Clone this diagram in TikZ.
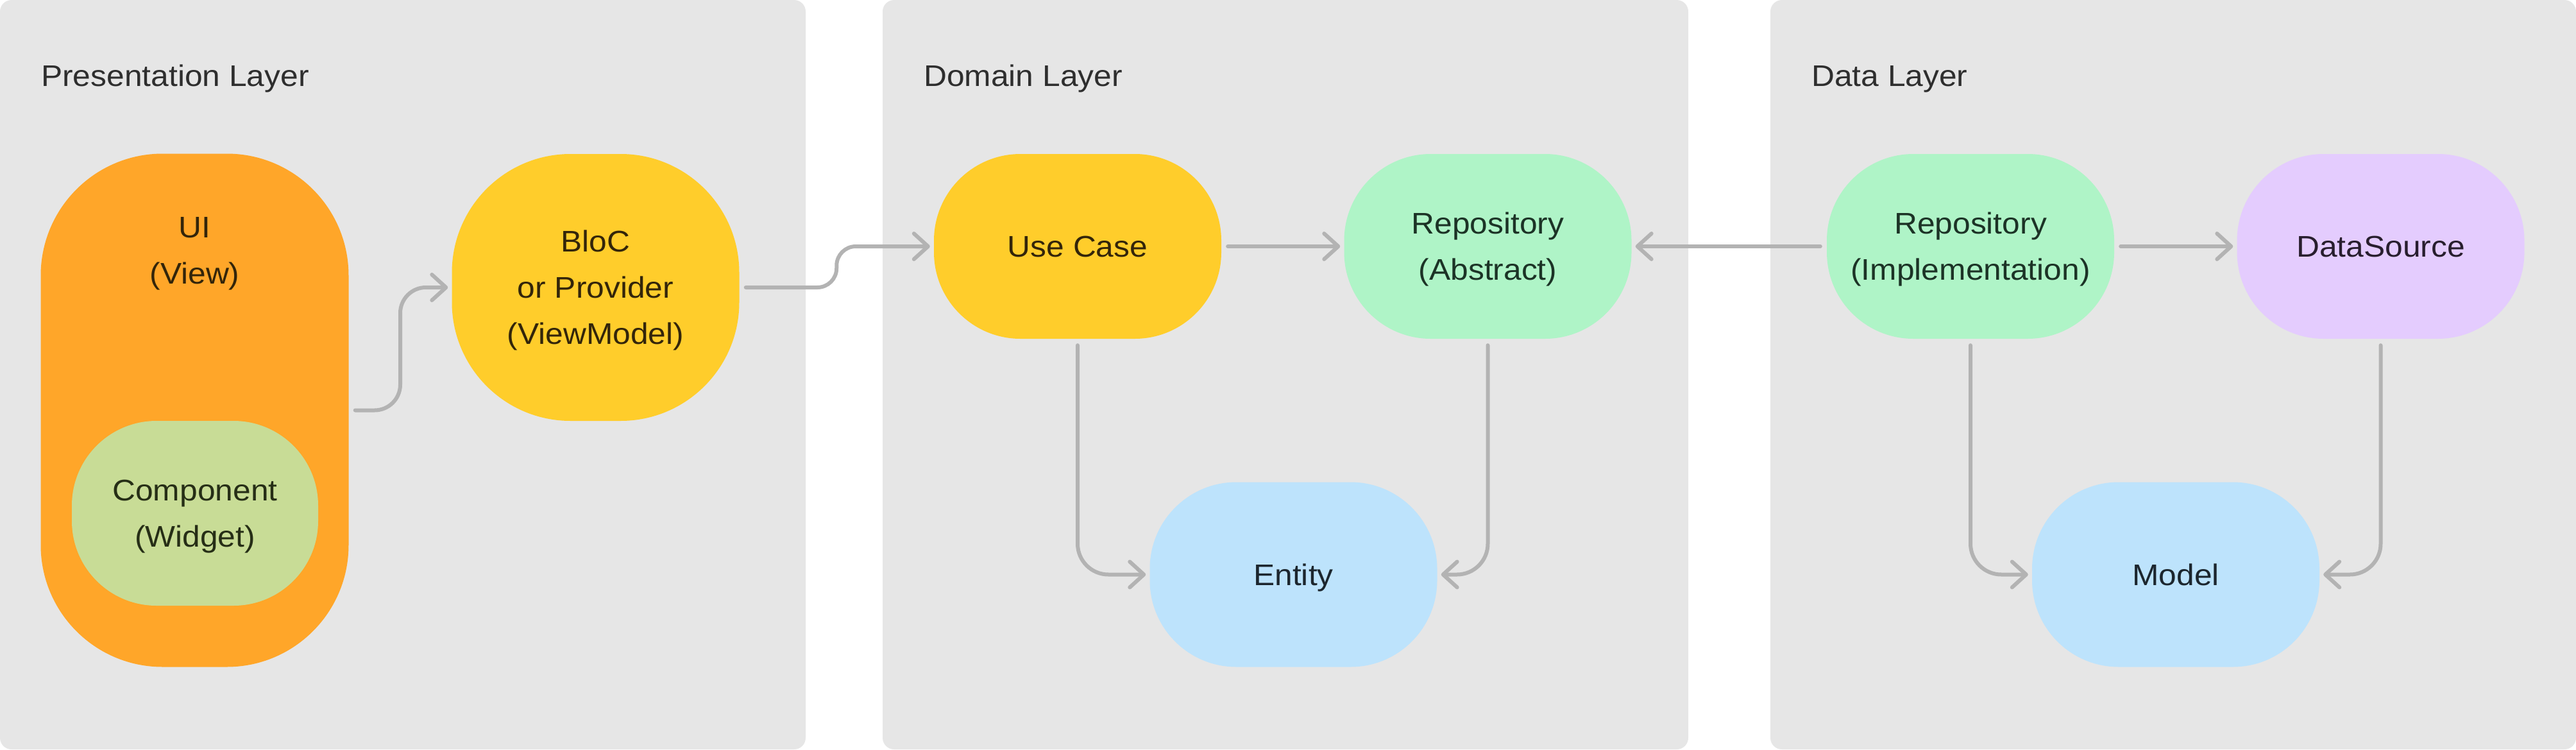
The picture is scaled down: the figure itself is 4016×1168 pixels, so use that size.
\documentclass[tikz,border=0pt]{standalone}
\usepackage{fontspec}
\setmainfont{Liberation Sans}[FakeStretch=1.07]
\usetikzlibrary{arrows.meta,calc}
\definecolor{panelbg}{HTML}{E6E6E6}
\definecolor{uiorange}{HTML}{FFA629}
\definecolor{blocyellow}{HTML}{FFCD2B}
\definecolor{repogreen}{HTML}{AFF4C7}
\definecolor{complime}{HTML}{C8DC96}
\definecolor{entblue}{HTML}{BDE3FC}
\definecolor{dspurple}{HTML}{E4CCFE}
\definecolor{conngray}{HTML}{B3B3B3}
\definecolor{titletext}{HTML}{2E2E2E}
\definecolor{browntext}{HTML}{33250A}
\definecolor{greentext}{HTML}{1C3326}
\definecolor{bluetext}{HTML}{1C262E}
\definecolor{purpletext}{HTML}{281E2E}
\definecolor{limetext}{HTML}{262E16}
\newcommand{\lnstrut}{\rule[-19.5pt]{0pt}{72pt}}
\newcommand{\nodefnt}{\fontsize{46.5pt}{72pt}\selectfont}
\begin{document}
\begin{tikzpicture}[x=1pt,y=-1pt,
  panel/.style={fill=panelbg, rounded corners=18pt, inner sep=0pt, minimum width=1256pt, minimum height=1168pt},
  titlelbl/.style={font=\nodefnt, text=titletext, inner sep=0pt, anchor=base west},
  blk/.style={fill=#1, rounded corners=135pt, minimum width=448pt, minimum height=288pt, inner sep=0pt, align=center, font=\nodefnt},
  conn/.style={draw=conngray, line width=6pt, line cap=round, line join=round, shorten <=10pt, shorten >=6pt,
    -{Straight Barb[length=22pt,width=40pt,line cap=round,line join=round]}}
]
\useasboundingbox (0,0) rectangle (4016,1168);
% panels
\node[panel] (p1) at (628,584) {};
\node[panel] (p2) at (2004,584) {};
\node[panel] (p3) at (3388,584) {};
% titles
\node[titlelbl] (t1) at (64,134) {Presentation Layer};
\node[titlelbl] (t2) at (1440,134) {Domain Layer};
\node[titlelbl] (t3) at (2824,134) {Data Layer};
% presentation layer
\node[blk=uiorange, rounded corners=190pt, minimum width=480pt, minimum height=800pt] (ui) at (303.5,639.5) {};
\node[font=\nodefnt, text=browntext, align=center, inner sep=0pt] (uitext) at (303.5,390) {\lnstrut UI\\\lnstrut (View)};
\node[blk=complime, text=limetext, rounded corners=132pt, minimum width=384pt] (comp) at (304,800) {\lnstrut Component\\\lnstrut (Widget)};
\node[blk=blocyellow, text=browntext, rounded corners=185pt, minimum height=416pt] (bloc) at (928.5,448) {\lnstrut BloC\\\lnstrut or Provider\\\lnstrut (ViewModel)};
% domain layer
\node[blk=blocyellow, text=browntext] (uc) at (1680,384) {\lnstrut Use Case};
\node[blk=repogreen, text=greentext] (ra) at (2319.5,384) {\lnstrut Repository\\\lnstrut (Abstract)};
\node[blk=entblue, text=bluetext] (ent) at (2016.5,895.5) {\lnstrut Entity};
% data layer
\node[blk=repogreen, text=greentext] (ri) at (3072,384) {\lnstrut Repository\\\lnstrut (Implementation)};
\node[blk=dspurple, text=purpletext] (ds) at (3711.5,384) {\lnstrut DataSource};
\node[blk=entblue, text=bluetext] (md) at (3392,895.5) {\lnstrut Model};
% bend points
\coordinate (m1) at ($(ui.east)!0.5!(bloc.west)$);
\coordinate (m2) at ($(bloc.east)!0.5!(uc.west)$);
% connectors
\draw[conn, rounded corners=40pt] (ui.east) -| (m1 |- bloc.west) -- (bloc.west);
\draw[conn, rounded corners=30pt] (bloc.east) -| (m2 |- uc.west) -- (uc.west);
\draw[conn] (uc.east) -- (ra.west);
\draw[conn] (ri.west) -- (ra.east);
\draw[conn] (ri.east) -- (ds.west);
\draw[conn, rounded corners=48pt] (uc.south) |- (ent.west);
\draw[conn, rounded corners=48pt] (ra.south) |- (ent.east);
\draw[conn, rounded corners=48pt] (ri.south) |- (md.west);
\draw[conn, rounded corners=48pt] (ds.south) |- (md.east);
\end{tikzpicture}
\end{document}
